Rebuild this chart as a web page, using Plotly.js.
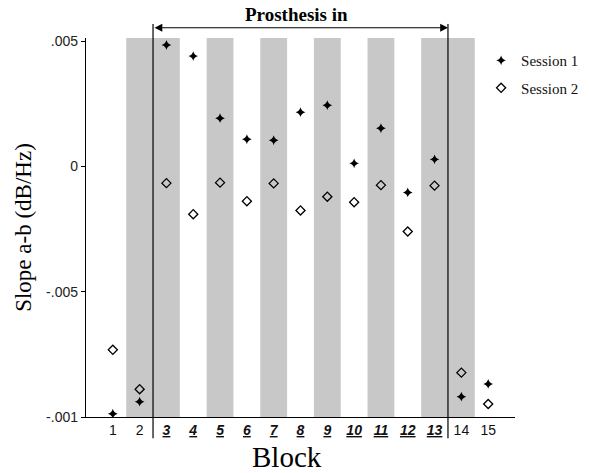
<!DOCTYPE html>
<html>
<head>
<meta charset="utf-8">
<script src="https://cdn.plot.ly/plotly-3.0.1.min.js"></script>
<style>html,body{margin:0;padding:0;background:#fff;}#chart{width:589px;height:473px;}</style>
</head>
<body>
<div id="chart"></div>
<script>
var blocks = [1,2,3,4,5,6,7,8,9,10,11,12,13,14,15];
var session1 = [-0.00987,-0.00939,0.00484,0.0044,0.00192,0.00108,0.00104,0.00216,0.00244,0.00012,0.00152,-0.00104,0.00028,-0.00919,-0.00868];
var session2 = [-0.00732,-0.00889,-0.00067,-0.00191,-0.00065,-0.00139,-0.00068,-0.00176,-0.00121,-0.00143,-0.00075,-0.0026,-0.00077,-0.00823,-0.00948];
var prosthesisBlocks = [3,4,5,6,7,8,9,10,11,12,13];
var shadedBlocks = [2,3,5,7,9,11,13,14];
var yTickVals = [0.005, 0, -0.005, -0.01];
var yTickText = ['.005', '0', '-.005', '-.001'];
var xTickText = blocks.map(function(b){
  return prosthesisBlocks.indexOf(b) >= 0 ? '<b><i><u>' + b + '</u></i></b>' : String(b);
});

var serif = 'Liberation Serif, Times New Roman, serif';
var sans = 'Liberation Sans, Arial, sans-serif';

var shapes = shadedBlocks.map(function(b){
  return {type:'rect', xref:'x', yref:'paper', x0:b-0.5, x1:b+0.5, y0:0, y1:1,
          fillcolor:'#c8c8c8', line:{width:0}, layer:'below'};
});
var pStart = prosthesisBlocks[0] - 0.5;
var pEnd = prosthesisBlocks[prosthesisBlocks.length-1] + 0.5;
shapes.push({type:'line', xref:'x', yref:'paper', x0:pStart, x1:pStart, y0:-0.056, y1:1.037, line:{color:'#000', width:1.2}, layer:'above'});
shapes.push({type:'line', xref:'x', yref:'paper', x0:pEnd, x1:pEnd, y0:-0.056, y1:1.037, line:{color:'#000', width:1.2}, layer:'above'});

var data = [
  {x: blocks, y: session1, type:'scatter', mode:'markers', name:'Session 1', legendgroup:'s1',
   marker:{symbol:'star-diamond', size:7, color:'#000', line:{width:0}}},
  {x: blocks, y: session2, type:'scatter', mode:'markers', name:'Session 2', legendgroup:'s2',
   marker:{symbol:'diamond-open', size:7, color:'#000', line:{width:1.3}}}
];

var layout = {
  width:589, height:473,
  margin:{l:86, r:74, t:38, b:56, autoexpand:false},
  paper_bgcolor:'#fff', plot_bgcolor:'rgba(0,0,0,0)',
  showlegend:true,
  legend:{x:0.921, y:0.984, xanchor:'left', yanchor:'top', bgcolor:'rgba(0,0,0,0)',
          traceorder:'grouped', tracegroupgap:5,
          font:{family:serif, size:15, color:'#111'}},
  xaxis:{range:[0,16], tickvals:blocks, ticktext:xTickText, showgrid:false, zeroline:false,
         showline:true, linecolor:'#000', linewidth:1.2, ticks:'',
         tickfont:{family:sans, size:14, color:'#111'}},
  yaxis:{range:[-0.01, 0.00512], tickvals:yTickVals, ticktext:yTickText, showgrid:false, zeroline:false,
         showline:true, linecolor:'#000', linewidth:1.2, ticks:'outside', ticklen:4, tickcolor:'#000',
         tickfont:{family:sans, size:14, color:'#222'},
         title:{text:'Slope a-b (dB/Hz)', font:{family:serif, size:23, color:'#000'}, standoff:8}},
  shapes: shapes,
  annotations:[
    {xref:'x', yref:'paper', x:pEnd, y:1.027, axref:'x', ayref:'pixel', ax:pStart, ay:0,
     showarrow:true, arrowhead:2, arrowside:'end+start', arrowsize:1.3, arrowwidth:1.2, arrowcolor:'#000', text:''},
    {xref:'x', yref:'paper', x:7.85, y:1.03, xanchor:'center', yanchor:'bottom', showarrow:false,
     text:'<b>Prosthesis in</b>', font:{family:serif, size:19, color:'#000'}},
    {xref:'x', yref:'paper', x:7.5, y:-0.105, xanchor:'center', yanchor:'middle', showarrow:false,
     text:'Block', font:{family:serif, size:29, color:'#000'}}
  ]
};

Plotly.newPlot('chart', data, layout, {displayModeBar:false, staticPlot:true});
</script>
</body>
</html>
